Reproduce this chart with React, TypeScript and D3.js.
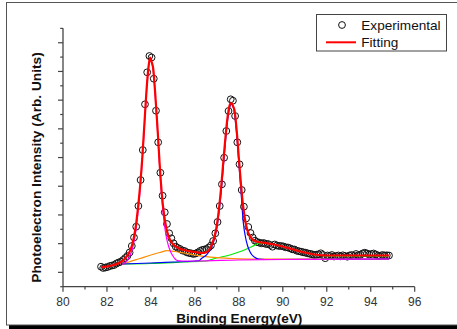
import React from "react";
import * as d3 from "d3";

// Experimental data: binding energy (eV) and intensity (arb. units)
const expEnergy: number[] = [
  81.73, 81.83, 81.93, 82.03, 82.13, 82.23, 82.33, 82.43, 82.53, 82.63,
  82.73, 82.83, 82.93, 83.03, 83.13, 83.23, 83.33, 83.43, 83.53, 83.63,
  83.73, 83.83, 83.93, 84.03, 84.13, 84.23, 84.33, 84.43, 84.53, 84.63,
  84.73, 84.83, 84.93, 85.03, 85.13, 85.23, 85.33, 85.43, 85.53, 85.63,
  85.73, 85.83, 85.93, 86.03, 86.13, 86.23, 86.33, 86.43, 86.53, 86.63,
  86.73, 86.83, 86.93, 87.03, 87.13, 87.23, 87.33, 87.43, 87.53, 87.63,
  87.73, 87.83, 87.93, 88.03, 88.13, 88.23, 88.33, 88.43, 88.53, 88.63,
  88.73, 88.83, 88.93, 89.03, 89.13, 89.23, 89.33, 89.43, 89.53, 89.63,
  89.73, 89.83, 89.93, 90.03, 90.13, 90.23, 90.33, 90.43, 90.53, 90.63,
  90.73, 90.83, 90.93, 91.03, 91.13, 91.23, 91.33, 91.43, 91.53, 91.63,
  91.73, 91.83, 91.93, 92.03, 92.13, 92.23, 92.33, 92.43, 92.53, 92.63,
  92.73, 92.83, 92.93, 93.03, 93.13, 93.23, 93.33, 93.43, 93.53, 93.63,
  93.73, 93.83, 93.93, 94.03, 94.13, 94.23, 94.33, 94.43, 94.53, 94.63,
  94.73, 94.83,
];
const expIntensity: number[] = [
  20.0, 18.7, 19.2, 19.7, 20.7, 21.2, 21.7, 23.2, 24.2, 25.0,
  26.7, 28.7, 30.7, 34.2, 40.7, 49.2, 60.0, 80.7, 106.7, 136.7,
  182.4, 214.4, 230.7, 229.2, 208.0, 176.0, 144.4, 114.0, 91.0, 74.4,
  62.7, 53.4, 48.4, 43.4, 40.0, 38.7, 37.7, 36.2, 35.7, 34.4,
  33.7, 33.4, 32.7, 33.2, 34.2, 35.7, 36.7, 37.2, 37.7, 39.2,
  41.2, 45.7, 53.4, 64.7, 80.7, 102.4, 129.0, 155.7, 175.7, 187.4,
  186.0, 170.7, 144.4, 122.4, 96.7, 80.0, 68.2, 59.7, 53.7, 49.2,
  46.0, 44.7, 44.0, 43.4, 43.7, 42.7, 42.7, 41.7, 40.0, 42.2,
  41.2, 40.7, 40.7, 40.2, 39.4, 39.2, 38.4, 37.4, 37.2, 36.0,
  35.5, 35.0, 34.4, 34.0, 33.4, 32.9, 32.4, 31.7, 32.0, 32.4,
  33.4, 31.7, 28.5, 31.2, 30.7, 31.7, 30.2, 30.7, 31.2, 30.4,
  31.4, 30.7, 30.0, 31.2, 31.7, 30.7, 32.7, 31.4, 31.9, 33.2,
  34.0, 33.2, 32.2, 32.7, 33.2, 32.2, 31.2, 30.7, 31.7, 31.2,
  31.4, 31.2,
];

// Total fit (red)
const fitEnergy: number[] = [
  81.73, 82.0, 82.3, 82.6, 82.8, 83.0, 83.1, 83.2, 83.3, 83.4, 83.5, 83.6, 83.7, 83.8, 83.9, 83.96,
  84.03, 84.1, 84.2, 84.3, 84.4, 84.5, 84.6, 84.7, 84.8, 84.9, 85.0, 85.2, 85.5, 86.0, 86.3, 86.5,
  86.6, 86.7, 86.8, 86.9, 87.0, 87.1, 87.2, 87.3, 87.4, 87.5, 87.6, 87.66, 87.75, 87.8, 87.9, 88.0,
  88.1, 88.2, 88.3, 88.4, 88.5, 88.6, 88.8, 89.0, 89.3, 89.6, 90.0, 90.4, 90.8, 91.2, 91.6, 92.0,
  93.0, 94.0, 94.83,
];
const fitIntensity: number[] = [
  19.4, 20.2, 21.7, 24.2, 27.7, 33.7, 38.7, 46.7, 58.7, 76.7, 98.7, 126.7, 161.7, 196.7, 221.7, 229.0,
  225.0, 218.7, 191.7, 158.7, 121.7, 91.7, 71.7, 58.7, 50.7, 45.7, 42.7, 39.2, 36.7, 34.7, 33.7, 34.2,
  35.7, 38.7, 43.7, 50.7, 61.7, 78.7, 100.7, 126.7, 151.7, 171.7, 182.7, 183.7, 179.7, 176.7, 156.7, 128.7,
  101.7, 79.7, 64.7, 55.7, 50.7, 47.7, 45.2, 44.2, 43.4, 42.2, 40.2, 37.7, 35.2, 33.2, 31.7, 31.2,
  31.2, 31.2, 31.2,
];

// Component 1 (Au 4f7/2, magenta)
const peak1Energy: number[] = [
  82.7, 83.0, 83.2, 83.3, 83.4, 83.5, 83.6, 83.7, 83.8, 83.9, 83.96, 84.03, 84.1, 84.2, 84.3, 84.4,
  84.5, 84.6, 84.7, 84.8, 84.9, 85.0, 85.1, 85.2, 85.4, 86.0, 88.0, 90.0, 92.0, 94.83,
];
const peak1Intensity: number[] = [
  22.2, 28.7, 41.7, 53.7, 71.7, 94.7, 123.7, 158.7, 194.7, 220.7, 228.5, 224.5, 217.7, 189.7, 155.7, 118.7,
  86.7, 64.7, 49.7, 40.7, 34.7, 30.7, 27.7, 26.2, 25.7, 25.7, 26.7, 27.2, 27.4, 27.7,
];

// Component 2 (Au 4f5/2, blue)
const peak2Energy: number[] = [
  82.7, 84.0, 85.0, 86.0, 86.2, 86.3, 86.4, 86.5, 86.6, 86.7, 86.8, 86.9, 87.0, 87.1, 87.2, 87.3,
  87.4, 87.5, 87.6, 87.66, 87.75, 87.8, 87.9, 88.0, 88.1, 88.2, 88.3, 88.4, 88.5, 88.6, 88.7, 88.9,
  89.2, 94.83,
];
const peak2Intensity: number[] = [
  22.7, 23.7, 24.7, 25.7, 26.2, 28.2, 29.7, 31.2, 33.7, 37.2, 41.7, 48.7, 58.7, 74.7, 95.7, 121.7,
  147.7, 168.7, 180.7, 182.7, 179.7, 173.7, 152.7, 123.7, 94.7, 64.7, 49.7, 40.7, 35.2, 31.7, 29.7, 27.7,
  27.2, 27.7,
];

// Component 3 (broad, orange)
const peak3Energy: number[] = [
  82.7, 83.0, 83.5, 84.0, 84.4, 84.75, 85.1, 85.5, 86.0, 86.5, 87.0, 87.5, 88.0, 89.0, 94.83,
];
const peak3Intensity: number[] = [
  22.2, 24.7, 28.2, 31.7, 34.2, 36.0, 35.2, 33.7, 31.7, 30.0, 29.0, 28.4, 27.9, 27.5, 27.6,
];

// Component 4 (broad, green)
const peak4Energy: number[] = [
  82.7, 84.0, 85.5, 86.5, 86.9, 87.2, 87.5, 87.8, 88.0, 88.3, 88.6, 88.9, 89.2, 89.5, 90.0, 90.5,
  91.0, 91.5, 92.0, 93.0, 94.83,
];
const peak4Intensity: number[] = [
  22.7, 23.2, 24.7, 25.7, 28.2, 29.7, 31.2, 33.2, 34.7, 37.2, 40.2, 43.2, 43.7, 42.7, 40.2, 37.2,
  34.2, 31.7, 30.7, 30.7, 30.8,
];

const xMajorTicks: number[] = [80, 82, 84, 86, 88, 90, 92, 94, 96];
const xMinorTicks: number[] = [81, 83, 85, 87, 89, 91, 93, 95];

const W = 457;
const H = 329;
const X0 = 63;
const X1 = 414.7;
const YB = 286.7;
const YT = 28.3;
const font = "'Liberation Sans', Arial, sans-serif";
const axisColor = "#444";

export default function App() {
  const x = d3.scaleLinear().domain([80, 96]).range([X0, X1]);
  const y = d3.scaleLinear().domain([0, 258.4]).range([YB, YT]);
  const line = (es: number[], vs: number[]) =>
    d3
      .line<number>()
      .x((_, i) => x(es[i]))
      .y((v) => y(v))
      .curve(d3.curveMonotoneX)(vs) || "";

  const step = 28.7 / 2;
  const yTicks = d3.range(0, 19).map((k) => ({ v: k * step, major: k % 2 === 1 }));

  const comps = [
    { e: peak4Energy, v: peak4Intensity, c: "#00ee00" },
    { e: peak3Energy, v: peak3Intensity, c: "#ff8c00" },
    { e: peak2Energy, v: peak2Intensity, c: "#0000ff" },
    { e: peak1Energy, v: peak1Intensity, c: "#ff00ff" },
  ];

  return (
    <svg
      width={W}
      height={H}
      style={{ position: "absolute", left: 0, top: 0, background: "#fff" }}
      fontFamily={font}
    >
      <rect x={0} y={0} width={W} height={H} fill="#fff" />
      {/* frame */}
      <rect x={9} y={325} width={W} height={4} fill="#000" />
      <rect x={6.5} y={2.5} width={W} height={322.5} fill="none" stroke="#555" strokeWidth={1} />

      {/* experimental points */}
      {expEnergy.map((e, i) => (
        <circle
          key={i}
          cx={x(e)}
          cy={y(expIntensity[i])}
          r={3.4}
          fill="none"
          stroke="#111"
          strokeWidth={1}
        />
      ))}

      {/* components */}
      {comps.map((c, i) => (
        <path key={i} d={line(c.e, c.v)} fill="none" stroke={c.c} strokeWidth={1.2} />
      ))}
      {/* total fit */}
      <path d={line(fitEnergy, fitIntensity)} fill="none" stroke="#ff0000" strokeWidth={2.2} />

      {/* axes */}
      <line x1={X0} x2={X1} y1={YB} y2={YB} stroke={axisColor} strokeWidth={1.3} />
      <line x1={X0} x2={X0} y1={YT} y2={YB} stroke={axisColor} strokeWidth={1.3} />
      {xMajorTicks.map((t) => (
        <g key={"xm" + t}>
          <line x1={x(t)} x2={x(t)} y1={YB} y2={YB + 5} stroke={axisColor} strokeWidth={1.2} />
          <text x={x(t)} y={305.5} textAnchor="middle" fontSize={12} fill="#333">
            {t}
          </text>
        </g>
      ))}
      {xMinorTicks.map((t) => (
        <line key={"xn" + t} x1={x(t)} x2={x(t)} y1={YB} y2={YB + 2.8} stroke={axisColor} strokeWidth={1.2} />
      ))}
      {yTicks.map((t, i) => (
        <line
          key={"y" + i}
          x1={X0 - (t.major ? 5 : 2.8)}
          x2={X0}
          y1={y(t.v)}
          y2={y(t.v)}
          stroke={axisColor}
          strokeWidth={1.2}
        />
      ))}

      {/* axis titles */}
      <text x={239.3} y={322.5} textAnchor="middle" fontSize={13.6} fontWeight="bold" fill="#111">
        Binding Energy(eV)
      </text>
      <text
        transform="translate(40.5,167.5) rotate(-90)"
        textAnchor="middle"
        fontSize={13.7}
        fontWeight="bold"
        fill="#111"
      >
        Photoelectron Intensity (Arb. Units)
      </text>

      {/* legend */}
      <rect x={316.5} y={14.5} width={130} height={36.5} fill="#fff" stroke="#444" strokeWidth={1} />
      <circle cx={342} cy={25} r={3.4} fill="none" stroke="#111" strokeWidth={1} />
      <line x1={326} x2={356} y1={42.3} y2={42.3} stroke="#ff0000" strokeWidth={2} />
      <text x={361.3} y={29.5} fontSize={13.6} fill="#111">
        Experimental
      </text>
      <text x={361.3} y={46.5} fontSize={13.6} fill="#111">
        Fitting
      </text>
    </svg>
  );
}
